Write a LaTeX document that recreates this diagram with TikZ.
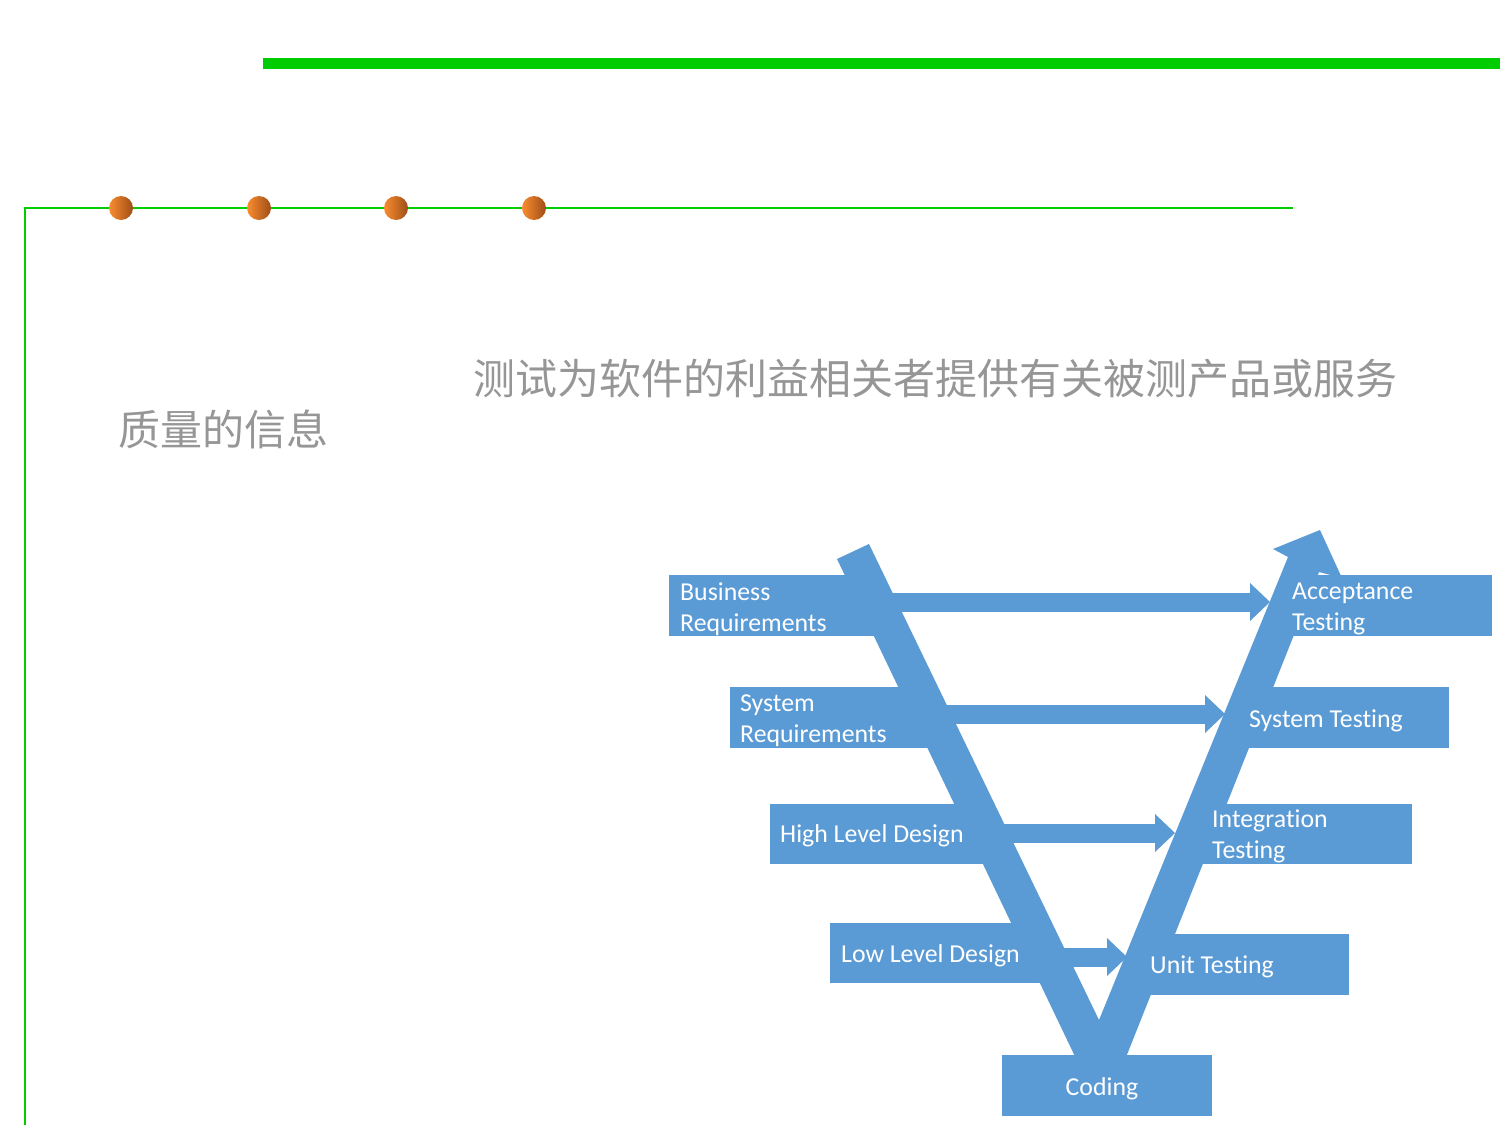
\documentclass[tikz,border=0pt]{standalone}
\usepackage{fontspec}
\setmainfont{Carlito}[Ligatures=NoCommon]
\newfontfamily\cjkfont{Noto Sans CJK SC}
\usetikzlibrary{arrows.meta,calc}
\definecolor{vblue}{RGB}{91,155,213}
\definecolor{lgreen}{RGB}{0,204,0}
\definecolor{dotlight}{RGB}{250,140,48}
\definecolor{dotdark}{RGB}{158,78,24}
\definecolor{capgrey}{RGB}{150,150,150}

\begin{document}
\begin{tikzpicture}[x=1pt,y=-1pt,
  box/.style={fill=vblue,draw=none,inner sep=0,minimum height=61pt,anchor=north west},
  lbl/.style={text=white,font=\fontsize{25.8}{31}\selectfont,align=left,inner sep=0,anchor=west},
  flow/.style={draw=vblue,line width=19pt,-{Triangle[length=20pt,width=38pt,line width=0pt]}},
  ball/.style={circle,minimum size=24pt,inner sep=0,left color=dotlight,right color=dotdark,draw=none},
  caption/.style={font=\cjkfont\fontsize{42}{50}\selectfont,text=capgrey,anchor=west,inner sep=0}
  ]
\useasboundingbox (0,0) rectangle (1500,1125);

% header rule
\draw[lgreen,line width=11pt] (263,63.5) -- (1500,63.5);
% frame rule with bullets
\draw[lgreen,line width=2.5pt] (25,1125) -- (25,208) -- (1293,208);
\node[ball] (d1) at (121,208) {};
\node[ball] (d2) at (259,208) {};
\node[ball] (d3) at (396,208) {};
\node[ball] (d4) at (534,208) {};

% caption
\node[caption] (cap1) at (473,379) {测试为软件的利益相关者提供有关被测产品或服务};
\node[caption] (cap2) at (118,429) {质量的信息};

% V-model backbone
\fill[vblue] (837,559) -- (869,544) -- (1099,1020) -- (1288,557) -- (1273,549)
  -- (1320,530) -- (1342,578) -- (1319,572) -- (1103,1115) -- cycle;

% stage boxes
\node[box,minimum width=211pt] (br)  at (669,575)  {};
\node[box,minimum width=200pt] (sr)  at (730,687)  {};
\node[box,minimum width=215pt,minimum height=60pt] (hld) at (770,804)  {};
\node[box,minimum width=212pt,minimum height=60pt] (lld) at (830,923)  {};
\node[box,minimum width=202pt] (at)  at (1290,575) {};
\node[box,minimum width=204pt] (st)  at (1245,687) {};
\node[box,minimum width=212pt,minimum height=60pt] (it)  at (1200,804) {};
\node[box,minimum width=201pt] (ut)  at (1148,934) {};
\node[box,minimum width=210pt] (cd)  at (1002,1055) {};

% verification links
\coordinate (t1) at (1270,602);
\coordinate (t2) at (1225,714);
\coordinate (t3) at (1175,833);
\coordinate (t4) at (1127,957);
\draw[flow] (br.east |- t1) -- (t1);
\draw[flow] (sr.east |- t2) -- (t2);
\draw[flow] (hld.east |- t3) -- (t3);
\draw[flow] (lld.east |- t4) -- (t4);

% labels
\node[lbl] (brl)  at (680,609)  {Business\\Requirements};
\node[lbl] (srl)  at (740,721)  {System\\Requirements};
\node[lbl] (hldl) at (780,836)  {High Level Design};
\node[lbl] (lldl) at (841,956)  {Low Level Design};
\node[lbl] (atl)  at (1292,609) {Acceptance\\Testing};
\node[lbl] (stl)  at (1249,721) {System Testing};
\node[lbl] (itl)  at (1212,836) {Integration\\Testing};
\node[lbl] (utl)  at (1150,967) {Unit Testing};
\node[lbl,anchor=center] (cdl) at (1102,1089) {Coding};
\end{tikzpicture}
\end{document}
